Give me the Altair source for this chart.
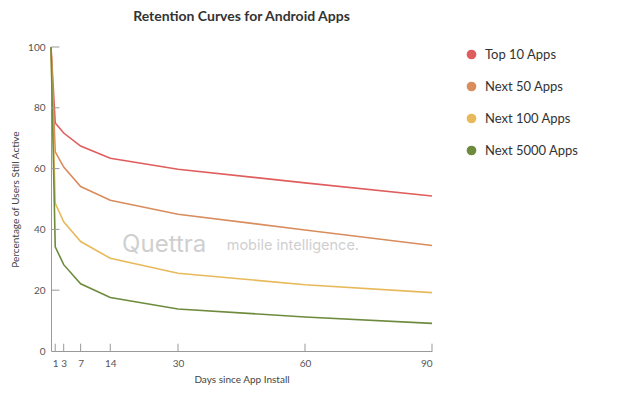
import altair as alt
import pandas as pd

days = [0, 1, 3, 7, 14, 30, 60, 90]
top10 = [100, 75.0, 71.7, 67.4, 63.4, 59.8, 55.3, 51.0]
next50 = [100, 65.5, 60.5, 54.1, 49.6, 45.0, 39.8, 34.7]
next100 = [100, 48.6, 42.5, 36.0, 30.5, 25.6, 21.8, 19.2]
next5000 = [100, 34.3, 28.4, 22.1, 17.6, 13.8, 11.2, 9.1]

series = ["Top 10 Apps", "Next 50 Apps", "Next 100 Apps", "Next 5000 Apps"]
colors = ["#e05d5d", "#d98c5c", "#e8b95a", "#6e8b3d"]

x_ticks = [1, 3, 7, 14, 30, 60, 90]
y_ticks = [0, 20, 40, 60, 80, 100]

rows = []
for name, vals in zip(series, [top10, next50, next100, next5000]):
    for d, v in zip(days, vals):
        rows.append({"day": d, "pct": v, "series": name})
df = pd.DataFrame(rows)

xs = alt.Scale(domain=[0, 90], nice=False, zero=True)
ys = alt.Scale(domain=[0, 100], nice=False)

font = "Lato"

lines = alt.Chart(df).mark_line(strokeWidth=1.6).encode(
    x=alt.X("day:Q", scale=xs,
            axis=alt.Axis(values=x_ticks, title="Days since App Install", ticks=False,
                          grid=False, labelPadding=7, titlePadding=6)),
    y=alt.Y("pct:Q", scale=ys,
            axis=alt.Axis(values=y_ticks, title="Percentage of Users Still Active", ticks=False,
                          grid=False, labelPadding=6, titlePadding=7)),
    color=alt.Color("series:N", scale=alt.Scale(domain=series, range=colors),
                    sort=series,
                    legend=alt.Legend(title=None, orient="none", legendX=414, legendY=1,
                                      symbolType="circle", symbolSize=22, symbolStrokeWidth=5,
                                      labelFontSize=13, labelColor="#333", rowPadding=7,
                                      labelOffset=7)),
    order="day:Q",
)

xtick_df = pd.DataFrame({"t": x_ticks})
xticks = alt.Chart(xtick_df).mark_rule(color="#999", strokeWidth=1).encode(
    x=alt.X("t:Q", scale=xs), y=alt.datum(0, scale=ys), y2=alt.datum(2.4)
)
ytick_df = pd.DataFrame({"t": y_ticks[1:]})
yticks = alt.Chart(ytick_df).mark_rule(color="#999", strokeWidth=1).encode(
    y=alt.Y("t:Q", scale=ys), x=alt.datum(0, scale=xs), x2=alt.datum(2.0)
)

wm1 = alt.Chart(pd.DataFrame({"t": ["Quettra"]})).mark_text(
    align="left", baseline="middle", fontSize=24, color="#cfcfcf", font="Inter, sans-serif"
).encode(x=alt.datum(16.8, scale=xs), y=alt.datum(34.9, scale=ys), text="t:N")
wm2 = alt.Chart(pd.DataFrame({"t": ["mobile intelligence."]})).mark_text(
    align="left", baseline="middle", fontSize=14.5, color="#cfcfcf", font="Inter, sans-serif"
).encode(x=alt.datum(41.5, scale=xs), y=alt.datum(34.6, scale=ys), text="t:N")

chart = alt.layer(wm1, wm2, lines, xticks, yticks).properties(
    width=381, height=304,
    title=alt.TitleParams("Retention Curves for Android Apps", anchor="middle",
                          fontSize=14, font=font, fontWeight="bold", color="#333", offset=18),
    autosize=alt.AutoSizeParams(type="none"),
    padding={"left": 43, "top": 39, "right": 170, "bottom": 37},
).configure_view(stroke=None).configure_axis(
    domainColor="#999", labelColor="#555", titleColor="#444", labelFont=font, titleFont=font,
    labelFontSize=10, titleFontSize=10, titleFontWeight="normal"
).configure_legend(labelFont=font)

chart.save("out.html", embed_options={"renderer": "svg", "actions": False})
